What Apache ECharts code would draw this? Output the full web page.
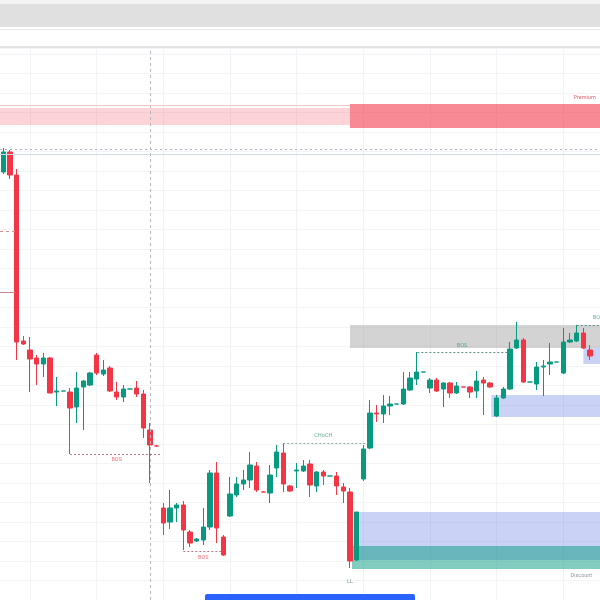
<!DOCTYPE html>
<html><head><meta charset="utf-8">
<script src="https://cdn.jsdelivr.net/npm/echarts@6/dist/echarts.min.js"></script>
<style>html,body{margin:0;padding:0;background:#fff}#c{width:600px;height:600px}</style>
</head><body><div id="c"></div>
<script>
// ---- data (price units, arbitrary scale) ----
const barCount = 90;
const categories = Array.from({length: barCount}, (_, i) => 'B' + i);
// [open, close, low, high]
const ohlc = [
[428,448,426,452],[448,425,421,450],[425,258,240,431],[259,256,255,264],[250,241,208,263],
[242,236,215,245],[236,242,223,247],[242,207,207,243],[208,209,194,223],[209,209,209,209],
[208,192,146,212],[193,212,177,228],[213,219,170,220],[215,227,214,228],[245,227,225,247],
[226,230,224,240],[232,209,208,234],[208,203,200,218],[203,211,198,215],[211,211,211,211],
[212,206,203,219],[206,172,162,210],[170,155,117,177],[154,154,154,155],[92,77,65,97],
[78,92,71,110],[92,95,78,97],[95,70,50,99],[68,57,53,70],[59,61,58,62],
[60,73,55,92],[73,127,70,130],[127,72,57,138],[63,45,44,65],[84,106,83,123],
[105,116,103,123],[116,120,110,130],[120,135,112,148],[134,110,108,138],[108,108,108,109],
[107,125,97,135],[132,148,123,155],[147,116,108,157],[114,109,108,115],[129,130,112,137],
[129,134,128,140],[136,115,103,140],[114,128,108,129],[128,124,115,130],[124,124,124,124],
[124,114,105,128],[113,109,97,117],[108,39,32,112],[40,88,39,88],[121,151,119,155],
[152,187,151,200],[187,186,178,195],[186,194,177,205],[194,196,185,204],[196,196,196,196],
[196,211,195,228],[210,222,209,228],[221,228,215,248],[228,228,228,228],[212,220,207,222],
[220,209,208,222],[211,217,193,218],[217,207,202,218],[207,214,206,218],[213,213,213,213],
[213,208,202,214],[209,219,202,229],[220,217,185,223],[217,213,212,218],[184,202,183,205],
[202,211,201,213],[211,251,210,258],[252,260,251,278],[260,218,217,262],[218,218,218,218],
[216,233,210,238],[233,234,204,240],[236,238,225,257],[238,238,238,238],[227,258,226,272],
[258,260,257,267],[259,267,258,275],[267,252,251,272],[250,244,240,255],'-'
];
// zones: [startBar, endBar, top, bottom]
const premiumOld = [-0.5, 52, 492, 475];
const premiumZone = [52, 89.5, 496, 472];
const supplyZone = [52, 89.5, 275, 252];
const demandMid = [73.2, 89.5, 205, 183];
const demandSmall = [87, 89.5, 252, 236];
const demandLow = [52.7, 89.5, 88, 40];
const discountZone = [52.3, 89.5, 54, 31];
// structure lines: [startBar, endBar, level]
const bearBOS = [[10, 23.6, 146], [27, 32.9, 49]];
const bullBOS = [[62.1, 75.8, 248], [86, 89.5, 275]];
const chochLine = [42, 54.5, 157];
const premiumEdge = [-0.5, 52, 495];
const eqDotted = [-0.5, 89.5, 451];
const eqSolid = [-0.5, 89.5, 446];
const leftDashed = [-0.5, 1.8, 369];
const leftSolid = [-0.5, 1.8, 308];
const crosshairBar = 22;
const vGridBars = [4, 14, 24, 34, 44, 54, 64, 74, 84];
// labels: [bar, level, text]
const bearLabels = [[17, 140, 'BOS'], [30, 42, 'BOS']];
const bullLabels = [[68.8, 254, 'BOS'], [89.2, 282, 'BOS'], [48, 164, 'CHoCH']];
const premiumLabel = [87.2, 502, 'Premium'];
const discountLabel = [86.7, 24, 'Discount'];
const llLabel = [52, 18, 'LL'];

const UP = '#089981', DOWN = '#f23645';

function area(z, color) {
  return [{xAxis: z[0], yAxis: z[2], itemStyle: {color: color}}, {xAxis: z[1], yAxis: z[3]}];
}
function seg(s, color, type, width) {
  return [{coord: [s[0], s[2]], lineStyle: {color: color, type: type, width: width || 1}},
          {coord: [s[1], s[2]]}];
}
function lbl(l, color) {
  return {value: [l[0], l[1]], name: l[2], label: {color: color}};
}

const chart = echarts.init(document.getElementById('c'), null, {renderer: 'canvas'});
chart.setOption({
  animation: false,
  backgroundColor: '#ffffff',
  grid: {left: -1.5, right: -1.5, top: 48, bottom: 0},
  xAxis: [
    {type: 'category', data: categories, show: false, boundaryGap: true},
    {type: 'value', min: -0.5, max: 89.5, show: false}
  ],
  yAxis: [{
    type: 'value', min: 0, max: 552, interval: 19.5,
    axisLine: {show: false}, axisTick: {show: false}, axisLabel: {show: false},
    splitLine: {show: true, lineStyle: {color: '#f3f4f7', width: 1}}
  }],
  graphic: [
    {type: 'rect', shape: {x: 0, y: 0, width: 600, height: 4}, style: {fill: '#f4f4f4'}, z: 100},
    {type: 'rect', shape: {x: 0, y: 4, width: 600, height: 23}, style: {fill: '#e0e0e0'}, z: 100},
    {type: 'rect', shape: {x: 0, y: 27, width: 600, height: 21}, style: {fill: '#ffffff'}, z: 100},
    {type: 'line', shape: {x1: 0, y1: 29.5, x2: 600, y2: 29.5}, style: {stroke: '#e8e8e8', lineWidth: 1}, z: 101},
    {type: 'line', shape: {x1: 0, y1: 47, x2: 600, y2: 47}, style: {stroke: '#dadada', lineWidth: 1.5}, z: 101},
    {type: 'rect', shape: {x: 205, y: 594, width: 210, height: 6, r: [2, 2, 0, 0]}, style: {fill: '#2962ff'}, z: 100}
  ],
  series: [
    {
      type: 'line', xAxisIndex: 1, yAxisIndex: 0, data: [], z: 0, zlevel: 0, silent: true,
      markLine: {
        silent: true, symbol: 'none', label: {show: false}, z: 0,
        data: vGridBars.map(b => [{coord: [b, 0], lineStyle: {color: '#f1f3f6', type: 'solid', width: 1}}, {coord: [b, 552]}])
      }
    },
    {
      type: 'line', xAxisIndex: 1, yAxisIndex: 0, data: [], z: 1, silent: true,
      markArea: {
        silent: true,
        data: [
          area(premiumOld, 'rgba(242,54,69,0.22)'),
          area(premiumZone, 'rgba(242,54,69,0.58)'),
          area(supplyZone, 'rgba(150,150,150,0.42)'),
          area(demandMid, 'rgba(60,90,220,0.27)'),
          area(demandSmall, 'rgba(60,90,220,0.27)'),
          area(demandLow, 'rgba(60,90,220,0.27)'),
          area(discountZone, 'rgba(8,153,129,0.5)')
        ]
      },
      markLine: {
        silent: true, symbol: 'none', label: {show: false},
        data: [
          [{coord: [crosshairBar, 0], lineStyle: {color: '#b4b7bf', type: [3, 3], width: 1}}, {coord: [crosshairBar, 552]}],
          seg(premiumEdge, '#efc4c8', 'solid', 1),
          seg(eqDotted, '#a9b4bc', [2, 3], 1),
          seg(eqSolid, '#cfdde2', 'solid', 1.2),
          seg(leftDashed, '#e08a92', [3, 3], 1),
          seg(leftSolid, '#c98a90', 'solid', 1),
          ...bearBOS.map(s => seg(s, '#b9787e', [2, 2], 1)),
          ...bullBOS.map(s => seg(s, '#5d8f86', [2, 2], 1)),
          seg(chochLine, '#8aa9a3', [2, 2], 1)
        ]
      }
    },
    {
      type: 'candlestick', xAxisIndex: 0, yAxisIndex: 0, data: ohlc, z: 3,
      barWidth: 4.6,
      itemStyle: {color: UP, color0: DOWN, borderColor: UP, borderColor0: DOWN, borderWidth: 1}
    },
    {
      type: 'scatter', xAxisIndex: 1, yAxisIndex: 0, symbolSize: 0, z: 4, silent: true,
      label: {show: true, position: 'inside', formatter: p => p.name, fontSize: 5.5, fontFamily: 'Roboto, sans-serif'},
      data: [
        ...bearLabels.map(l => lbl(l, '#e0525e')),
        ...bullLabels.map(l => lbl(l, '#3f9a8a')),
        lbl(premiumLabel, '#d0404e'),
        lbl(discountLabel, '#7a7f88'),
        lbl(llLabel, '#5f8a9a')
      ]
    }
  ]
});
</script>
</body></html>
